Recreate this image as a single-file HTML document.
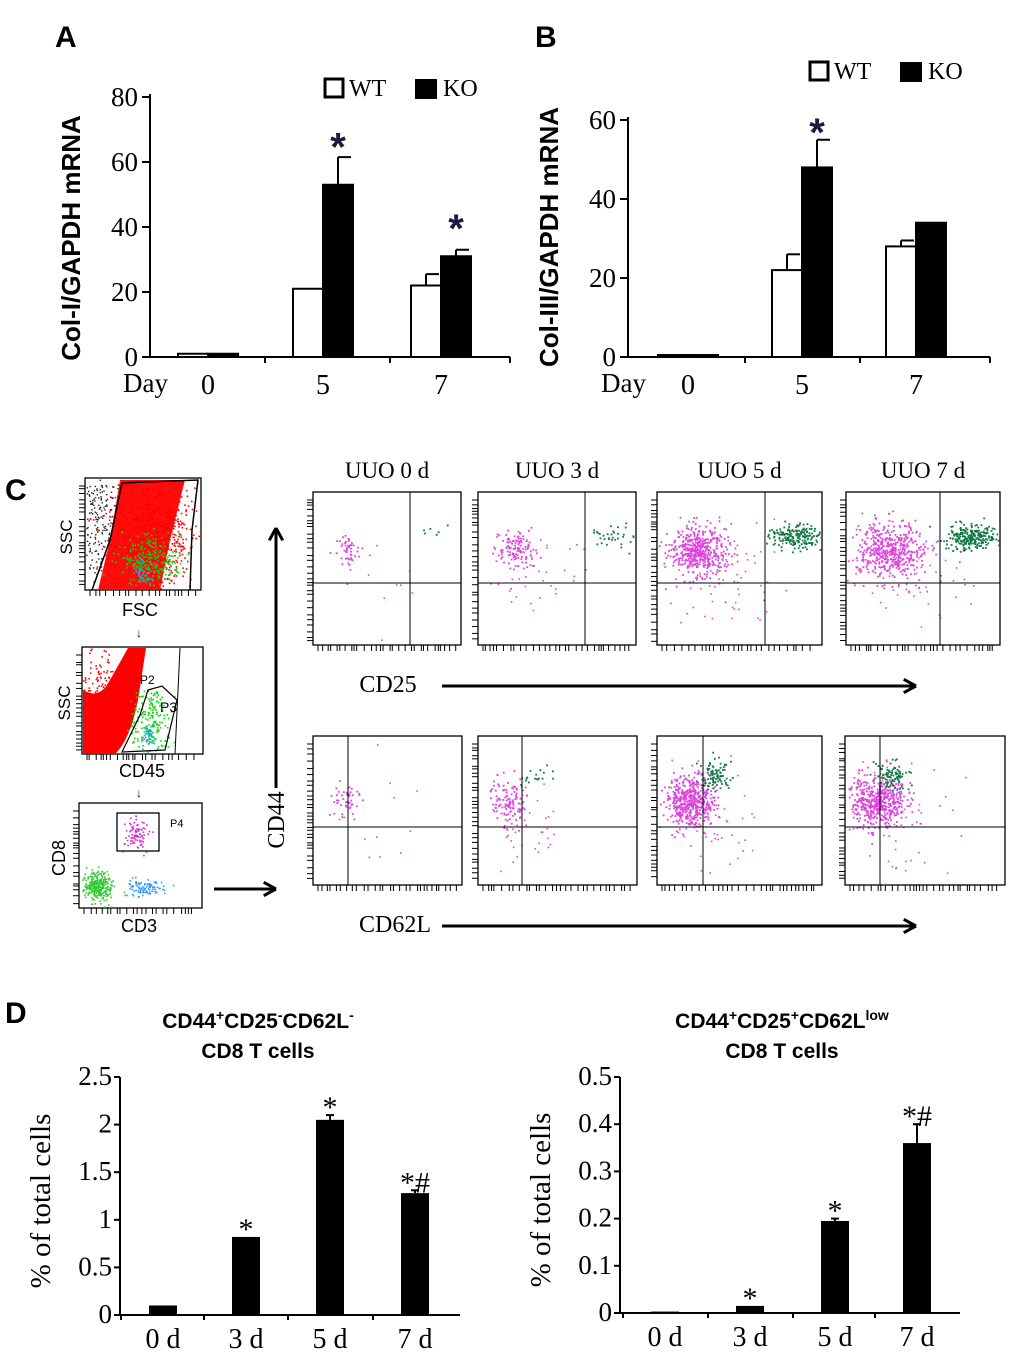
<!DOCTYPE html>
<html><head><meta charset="utf-8"><style>
html,body{margin:0;padding:0;background:#fff}
svg{display:block}
.ser{font-family:"Liberation Serif",serif}
.san{font-family:"Liberation Sans",sans-serif}
</style></head><body>
<svg id="fig" width="1020" height="1364" viewBox="0 0 1020 1364" xmlns="http://www.w3.org/2000/svg">
<g id="root"></g>
</svg>
<script>
// Panel A data
const aDays=['0','5','7'];
const aWT=[1,21,22];const aWTerr=[0,0,3.5];
const aKO=[1,53,31];const aKOerr=[0,8.5,2];
const aTicks=[0,20,40,60,80];
// Panel B data
const bDays=['0','5','7'];
const bWT=[0.5,22,28];const bWTerr=[0,4,1.5];
const bKO=[0.5,48,34];const bKOerr=[0,7,0];
const bTicks=[0,20,40,60];
// Panel D data
const dCats=['0 d','3 d','5 d','7 d'];
const d1Vals=[0.1,0.82,2.05,1.28];const d1Err=[0,0,0.05,0.03];const d1Marks=['','*','*','*#'];
const d1Ticks=['0','0.5','1','1.5','2','2.5'];
const d2Vals=[0.003,0.015,0.195,0.36];const d2Err=[0,0,0.005,0.04];const d2Marks=['','*','*','*#'];
const d2Ticks=['0','0.1','0.2','0.3','0.4','0.5'];

const NS='http://www.w3.org/2000/svg';
const root=document.getElementById('root');
function el(tag,attrs,parent,text){const e=document.createElementNS(NS,tag);for(const k in attrs)e.setAttribute(k,attrs[k]);if(text!==undefined)e.textContent=text;(parent||root).appendChild(e);return e;}

function letter(t,x,y,n){const e=el('text',{x:x,y:y,'font-size':30,'font-weight':'bold',class:'san'},root,t);

}
letter('A',55,47,'panel-a-label');letter('B',535,47,'panel-b-label');letter('C',5,500,'panel-c-label');letter('D',5,1023,'panel-d-label');

function barPanel(o){
 const g=el('g',{});
 
 
 const y=v=>o.y0-(v/o.max)*(o.y0-o.yTop);
 el('line',{x1:o.ax,y1:o.yTop-3,x2:o.ax,y2:o.y0,stroke:'#000','stroke-width':2},g);
 el('line',{x1:o.ax,y1:o.y0,x2:o.xEnd,y2:o.y0,stroke:'#000','stroke-width':2},g);
 o.ticks.forEach(t=>{const yy=y(t);el('line',{x1:o.ax-8,y1:yy,x2:o.ax,y2:yy,stroke:'#000','stroke-width':2},g);
  const tx=el('text',{x:o.ax-12,y:yy+9,'text-anchor':'end','font-size':27,class:'ser'},g,t);
  
  });
 o.sep.forEach(s=>el('line',{x1:s,y1:o.y0,x2:s,y2:o.y0+6,stroke:'#000','stroke-width':2},g));
 const bw=30;
 o.days.forEach((d,i)=>{const cx=o.gx[i];
  [[o.wt,o.wte,'#fff',cx-bw],[o.ko,o.koe,'#000',cx]].forEach(([arr,err,fill,x0],k)=>{
   const v=arr[i];const r=el('rect',{x:x0,y:y(v),width:bw,height:o.y0-y(v),fill:fill,stroke:'#000','stroke-width':2},g);
   
   
   if(err[i]>0){el('line',{x1:x0+bw/2,y1:y(v),x2:x0+bw/2,y2:y(v+err[i]),stroke:'#000','stroke-width':2},g);
    el('line',{x1:x0+bw/2,y1:y(v+err[i]),x2:x0+bw-2,y2:y(v+err[i]),stroke:'#000','stroke-width':2},g);}
  });
  const lt=el('text',{x:cx,y:o.y0+37,'text-anchor':'middle','font-size':28,class:'ser'},g,d);
  
  
 });
 o.stars.forEach(s=>{const st=el('text',{x:o.gx[s[0]]+bw/2,y:y(s[1])+18,'text-anchor':'middle','font-size':40,'font-weight':'bold',class:'san',fill:'#1a1a40'},g,'*');
  
  });
 const dl=el('text',{x:o.ax-27,y:o.y0+35,'font-size':27,class:'ser'},g,'Day');
 
 
 const yt=el('text',{x:0,y:0,'font-size':26,'font-weight':'bold',class:'san','text-anchor':'middle',transform:`translate(${o.ytx},${o.yty}) rotate(-90)`},g,o.ytitle);
 
 
 const lg=el('g',{},g);
 
 
 el('rect',{x:o.lx,y:o.ly,width:18,height:18,fill:'#fff',stroke:'#000','stroke-width':3},lg);
 el('text',{x:o.lx+24,y:o.ly+17,'font-size':24,class:'ser'},lg,'WT');
 el('rect',{x:o.lx+90,y:o.ly,width:22,height:20,fill:'#000'},lg);
 el('text',{x:o.lx+118,y:o.ly+17,'font-size':24,class:'ser'},lg,'KO');
}
barPanel({name:'panel-a-chart',ax:150,y0:357,yTop:97,max:80,xEnd:510,ticks:aTicks,days:aDays,gx:[208,323,441],sep:[265,390,510],
 wt:aWT,wte:aWTerr,ko:aKO,koe:aKOerr,stars:[[1,66],[2,41]],ytitle:'Col-I/GAPDH mRNA',ytx:80,yty:238,lx:325,ly:79});
barPanel({name:'panel-b-chart',ax:628,y0:357,yTop:120,max:60,xEnd:990,ticks:bTicks,days:bDays,gx:[688,802,916],sep:[745,860,990],
 wt:bWT,wte:bWTerr,ko:bKO,koe:bKOerr,stars:[[1,58]],ytitle:'Col-III/GAPDH mRNA',ytx:558,yty:237,lx:810,ly:62});

function dPanel(o){
 const g=el('g',{});
 
 
 const max=parseFloat(o.ticks[o.ticks.length-1]);
 const y=v=>o.y0-(v/max)*(o.y0-o.yTop);
 el('line',{x1:o.ax,y1:o.yTop,x2:o.ax,y2:o.y0,stroke:'#000','stroke-width':2},g);
 el('line',{x1:o.ax,y1:o.y0,x2:o.xEnd,y2:o.y0,stroke:'#000','stroke-width':2},g);
 o.ticks.forEach(t=>{const yy=y(parseFloat(t));el('line',{x1:o.ax-6,y1:yy,x2:o.ax,y2:yy,stroke:'#000','stroke-width':2},g);
  const tx=el('text',{x:o.ax-8,y:yy+8,'text-anchor':'end','font-size':27,class:'ser'},g,t);
  
  });
 o.cats.forEach((c,i)=>{const cx=o.gx[i];const v=o.vals[i];
  const r=el('rect',{x:cx-14,y:y(v),width:28,height:o.y0-y(v),fill:'#000'},g);
  
  
  if(o.err[i]>0){el('line',{x1:cx,y1:y(v),x2:cx,y2:y(v+o.err[i]),stroke:'#000','stroke-width':2},g);
   el('line',{x1:cx-4,y1:y(v+o.err[i]),x2:cx+4,y2:y(v+o.err[i]),stroke:'#000','stroke-width':2},g);}
  if(o.marks[i]){const m=el('text',{x:cx,y:y(v+o.err[i])+2,'text-anchor':'middle','font-size':30,class:'ser'},g,o.marks[i]);
   
   }
  el('line',{x1:cx-42,y1:o.y0,x2:cx-42,y2:o.y0+5,stroke:'#000','stroke-width':2},g);
  const lt=el('text',{x:cx,y:o.y0+33,'text-anchor':'middle','font-size':28,class:'ser'},g,c);
  
  
 });
 const yt=el('text',{x:0,y:0,'font-size':29,class:'ser','text-anchor':'middle',transform:`translate(${o.ax-70},${(o.y0+o.yTop)/2+5}) rotate(-90)`},g,'% of total cells');
 
 
 const t1=el('text',{x:o.tx,y:1028,'text-anchor':'middle','font-size':21,'font-weight':'bold',class:'san'},g);
 
 
 o.title(t1);
 el('text',{x:o.tx,y:1058,'text-anchor':'middle','font-size':21,'font-weight':'bold',class:'san'},g,'CD8 T cells');
}
function titleParts(t,parts){let prevSup=false;parts.forEach(([s,isSup])=>{const a={'font-size':isSup?14:21};const dy=(isSup&&!prevSup)?-8:(!isSup&&prevSup)?8:0;if(dy)a.dy=dy;el('tspan',a,t,s);prevSup=isSup;});}
dPanel({name:'panel-d-left-chart',ax:120,y0:1315,yTop:1077,xEnd:460,ticks:d1Ticks,cats:dCats,gx:[163,246,330,415],vals:d1Vals,err:d1Err,marks:d1Marks,tx:258,
 title:t=>titleParts(t,[['CD44',0],['+',1],['CD25',0],['-',1],['CD62L',0],['-',1]])});
dPanel({name:'panel-d-right-chart',ax:620,y0:1313,yTop:1077,xEnd:960,ticks:d2Ticks,cats:dCats,gx:[665,750,835,917],vals:d2Vals,err:d2Err,marks:d2Marks,tx:782,
 title:t=>titleParts(t,[['CD44',0],['+',1],['CD25',0],['+',1],['CD62L',0],['low',1]])});

// Panel C flow cytometry (decorative dot clouds, seeded)
let seed=12345;function rnd(){seed=(seed*1103515245+12345)%2147483648;return seed/2147483648;}
function gauss(){return Math.sqrt(-2*Math.log(rnd()+1e-9))*Math.cos(2*Math.PI*rnd());}
function cloud(g,n,cx,cy,sx,sy,col,box,r){for(let i=0;i<n;i++){const x=cx+gauss()*sx,y=cy+gauss()*sy;if(box&&(x<box[0]||x>box[2]||y<box[1]||y>box[3]))continue;el('rect',{x:x,y:y,width:r||1.6,height:r||1.6,fill:col},g);}}
function ticksBox(g,x1,y1,x2,y2){for(let x=x1+5;x<x2-5;x+=rnd()*6+2)el('line',{x1:x,y1:y2,x2:x,y2:y2+6,stroke:'#000','stroke-width':1},g);
 for(let y=y1+8;y<y2-3;y+=rnd()*6+2)el('line',{x1:x1-6,y1:y,x2:x1,y2:y,stroke:'#000','stroke-width':1},g);}
function plotBox(name,x1,y1,x2,y2){const g=el('g',{});
 el('rect',{x:x1,y:y1,width:x2-x1,height:y2-y1,fill:'#fff',stroke:'#000','stroke-width':1.3},g);ticksBox(g,x1,y1,x2,y2);return g;}
function lbl(t,x,y,size,rot,name,cls){const e=el('text',{x:0,y:0,'font-size':size,class:cls||'san','text-anchor':'middle',transform:`translate(${x},${y})${rot?' rotate(-90)':''}`},root,t);
 
 }
// gate 1
let g=plotBox('fsc-ssc-gating-plot',85,478,201,590);
cloud(g,300,100,520,12,40,'#222',[86,479,200,589],1.4);
el('polygon',{points:'98,590 110,540 120,480 185,480 170,540 160,590',fill:'#f00',opacity:0.95},g);
cloud(g,900,150,530,22,30,'#f00',[86,479,200,589]);
cloud(g,250,150,560,15,12,'#0d0',[100,480,200,589]);
cloud(g,40,140,570,6,6,'#39f',[100,480,200,589]);
el('polyline',{points:'92,590 110,540 122,483 198,480 192,530 190,590',fill:'none',stroke:'#000','stroke-width':1.5},g);
lbl('SSC',72,537,17,1,'ssc-label-1');lbl('FSC',140,616,18,0,'fsc-label');
lbl('↓',139,637,12,0,'gate-arrow-1');
// gate 2
g=plotBox('cd45-ssc-gating-plot',82,647,203,754);
el('path',{d:'M83,754 L83,690 Q100,700 110,680 L128,648 L146,648 L138,700 Q130,740 115,754 Z',fill:'#f00'},g);
cloud(g,150,100,690,14,20,'#f00',[83,648,202,753]);
cloud(g,200,150,720,10,18,'#0d0',[125,690,175,753]);
cloud(g,40,148,735,5,6,'#39f',[83,648,202,753]);
el('polygon',{points:'148,690 162,686 177,700 165,750 122,752 140,715',fill:'none',stroke:'#000','stroke-width':1.2},g);
el('line',{x1:180,y1:648,x2:175,y2:754,stroke:'#000','stroke-width':1},g);
el('text',{x:140,y:684,'font-size':12,class:'san'},g,'P2');el('text',{x:160,y:712,'font-size':14,class:'san'},g,'P3');
lbl('SSC',70,703,17,1,'ssc-label-2');lbl('CD45',142,777,18,0,'cd45-label');lbl('↓',139,797,12,0,'gate-arrow-2');
// gate 3
g=plotBox('cd3-cd8-gating-plot',79,803,202,908);
el('rect',{x:117,y:813,width:42,height:38,fill:'none',stroke:'#000','stroke-width':1.3},g);
cloud(g,90,136,834,7,7,'#c3c',[80,804,201,907]);
cloud(g,300,97,886,7,7,'#3c3',[80,804,201,907]);
cloud(g,100,143,887,9,4,'#39f',[80,804,201,907]);
el('text',{x:170,y:827,'font-size':11,class:'san'},g,'P4');
lbl('CD8',65,858,18,1,'cd8-label');lbl('CD3',139,932,18,0,'cd3-label');
// arrows
function arrow(x1,y1,x2,y2,name){const a=el('g',{});
 el('line',{x1:x1,y1:y1,x2:x2,y2:y2,stroke:'#000','stroke-width':3},a);
 const ang=Math.atan2(y2-y1,x2-x1);const L=14;
 [0.5,-0.5].forEach(d=>el('line',{x1:x2,y1:y2,x2:x2-L*Math.cos(ang+d),y2:y2-L*Math.sin(ang+d),stroke:'#000','stroke-width':3},a));}
arrow(214,889,276,889,'gating-arrow');
arrow(276,788,276,528,'cd44-axis-arrow');
arrow(442,686,916,686,'cd25-axis-arrow');
arrow(442,926,916,926,'cd62l-axis-arrow');
lbl('CD44',284,820,24,1,'cd44-label','ser');
lbl('CD25',388,692,24,0,'cd25-label','ser');
lbl('CD62L',395,932,24,0,'cd62l-label','ser');
const titles=['UUO 0 d','UUO 3 d','UUO 5 d','UUO 7 d'];
const tx=[[313,461,410],[478,636,585],[657,822,765],[846,1000,940]];
const bx=[[313,462,348],[478,637,522],[657,822,703],[845,1005,880]];
const mag=[30,80,160,160],grnT=[2,12,60,80],grnB=[0,6,30,30];
titles.forEach((t,i)=>{lbl(t,(tx[i][0]+tx[i][1])/2,478,23,0,'title-uuo-'+i,'ser');
 let g=plotBox('cd25-cd44-plot-'+i,tx[i][0],492,tx[i][1],645);
 const B=[tx[i][0]+1,493,tx[i][1]-1,644];
 cloud(g,mag[i]*(i>1?3:1.5),tx[i][0]+35+i*3,550,6+i*4,8+i*2,'#d4d',B,1.8);
 cloud(g,mag[i]*0.4,tx[i][0]+60,575,20+i*8,25,'#d4d',B,1.6);
 cloud(g,grnT[i]*3,tx[i][2]+30,536,12,6,'#174',B,1.8);
 el('line',{x1:tx[i][2],y1:492,x2:tx[i][2],y2:645,stroke:'#000','stroke-width':1},g);
 el('line',{x1:tx[i][0],y1:583,x2:tx[i][1],y2:583,stroke:'#000','stroke-width':1},g);
 g=plotBox('cd62l-cd44-plot-'+i,bx[i][0],736,bx[i][1],885);
 const B2=[bx[i][0]+1,737,bx[i][1]-1,884];
 cloud(g,mag[i]*(i>1?3:1.5),bx[i][0]+32,800,8+i*2,10+i,'#d4d',B2,1.8);
 cloud(g,mag[i]*0.4,bx[i][0]+50,820,22,25,'#d4d',B2,1.6);
 cloud(g,grnB[i]*3,bx[i][2]+12,775,8,7,'#174',B2,1.8);
 el('line',{x1:bx[i][2],y1:736,x2:bx[i][2],y2:885,stroke:'#000','stroke-width':1},g);
 el('line',{x1:bx[i][0],y1:827,x2:bx[i][1],y2:827,stroke:'#000','stroke-width':1},g);
});
</script>
</body></html>
